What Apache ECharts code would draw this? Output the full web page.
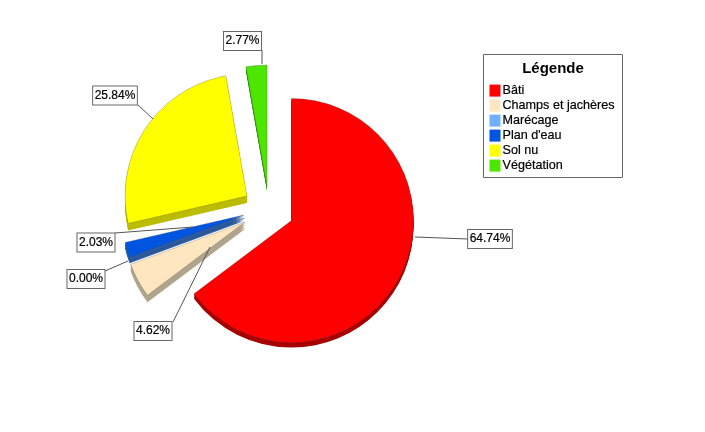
<!DOCTYPE html>
<html><head><meta charset="utf-8">
<style>html,body{margin:0;padding:0;background:#fff}#c{width:705px;height:432px}</style>
<script src="https://cdn.jsdelivr.net/npm/echarts@6/dist/echarts.min.js"></script>
</head><body><div id="c"></div>
<script>
const categories = ['Bâti','Champs et jachères','Marécage',"Plan d'eau",'Sol nu','Végétation'];
const values = [64.74,4.62,0.00,2.03,25.84,2.77];
const topColors = ['#ff0000','#fde6c0','#70b0ff','#0055e0','#ffff00','#4de600'];
const sideColors = ['#a80000','#b0a58c','#4a78b0','#2a5ca8','#bcbc00','#2f8f00'];
const explodedCenters = [[291.5,220.5],[245,222],[245,218],[244,215],[247,196],[267,187]];
const sliceDepths = [5,7,7,6,7,4];
const boxCenters = [[490,239],[153,331],[86,279],[96,242.5],[115,95.5],[242.5,41]];
const leaders = [
  [[415,237],[468,239]],
  [[173,322],[210,247]],
  [[105,271],[128,261]],
  [[115,233],[193,227]],
  [[138,105],[153,119]],
  [[262,50],[262,64]]
];
const RADIUS = 122;
const chart = echarts.init(document.getElementById('c'), null, {renderer:'canvas'});
const labelFont = {fontFamily:'"Liberation Sans",Arial,sans-serif',color:'#000',textBorderColor:'#000',textBorderWidth:0.2};

function layer(i, dy, color, z){
  return {
    type:'pie', silent:true, animation:false, clockwise:true, startAngle:90, z,
    radius:[0,RADIUS], center:[explodedCenters[i][0],explodedCenters[i][1]+dy],
    label:{show:false}, labelLine:{show:false}, emphasis:{disabled:true},
    data: categories.map((name,k)=>({
      name, value:values[k],
      itemStyle: k===i
        ? {color, borderColor:dy===0?'rgba(70,70,70,0.45)':color, borderWidth:dy===0?0.6:0}
        : {color:'transparent', borderWidth:0}
    }))
  };
}

const series = [{
  // carries the legend colours and the value boxes; draws no sector of its own
  type:'pie', silent:true, animation:false, startAngle:90, z:20,
  radius:[0,0], center:[291,221], avoidLabelOverlap:false,
  emphasis:{disabled:true},
  label:{show:true, position:'outside',
    formatter:p=>values[p.dataIndex].toFixed(2)+'%',
    ...labelFont, fontSize:12, lineHeight:14, padding:[2,1.5,2,1.5],
    backgroundColor:'#fff', borderColor:'#666', borderWidth:1},
  labelLine:{show:true, lineStyle:{color:'#555',width:1}},
  labelLayout:p=>({
    x:boxCenters[p.dataIndex][0], y:boxCenters[p.dataIndex][1],
    align:'center', verticalAlign:'middle',
    labelLinePoints:leaders[p.dataIndex]
  }),
  data:categories.map((name,k)=>({name,value:values[k],itemStyle:{color:topColors[k]}}))
}];
categories.forEach((_,i)=>{
  for(let d=sliceDepths[i];d>=1;d--) series.push(layer(i,d,sideColors[i],2));
});
categories.forEach((_,i)=>series.push(layer(i,0,topColors[i],3)));

chart.setOption({
  backgroundColor:'#fff',
  animation:false,
  title:{text:'Légende',left:548,top:56,textAlign:'center',
    textStyle:{fontFamily:'"Liberation Sans",Arial,sans-serif',fontSize:15,fontWeight:'bold',color:'#000'}},
  legend:{orient:'vertical',left:489.5,top:84,padding:0,itemGap:1.8,itemWidth:11,itemHeight:12,icon:'rect',
    selectedMode:false,data:categories,
    textStyle:{...labelFont,fontSize:12.6,padding:[0,0,0,-3]}},
  graphic:[{type:'rect',z:-1,shape:{x:483.5,y:54.5,width:139,height:123},
    style:{fill:'#fff',stroke:'#666',lineWidth:1}}],
  series
});
</script></body></html>
